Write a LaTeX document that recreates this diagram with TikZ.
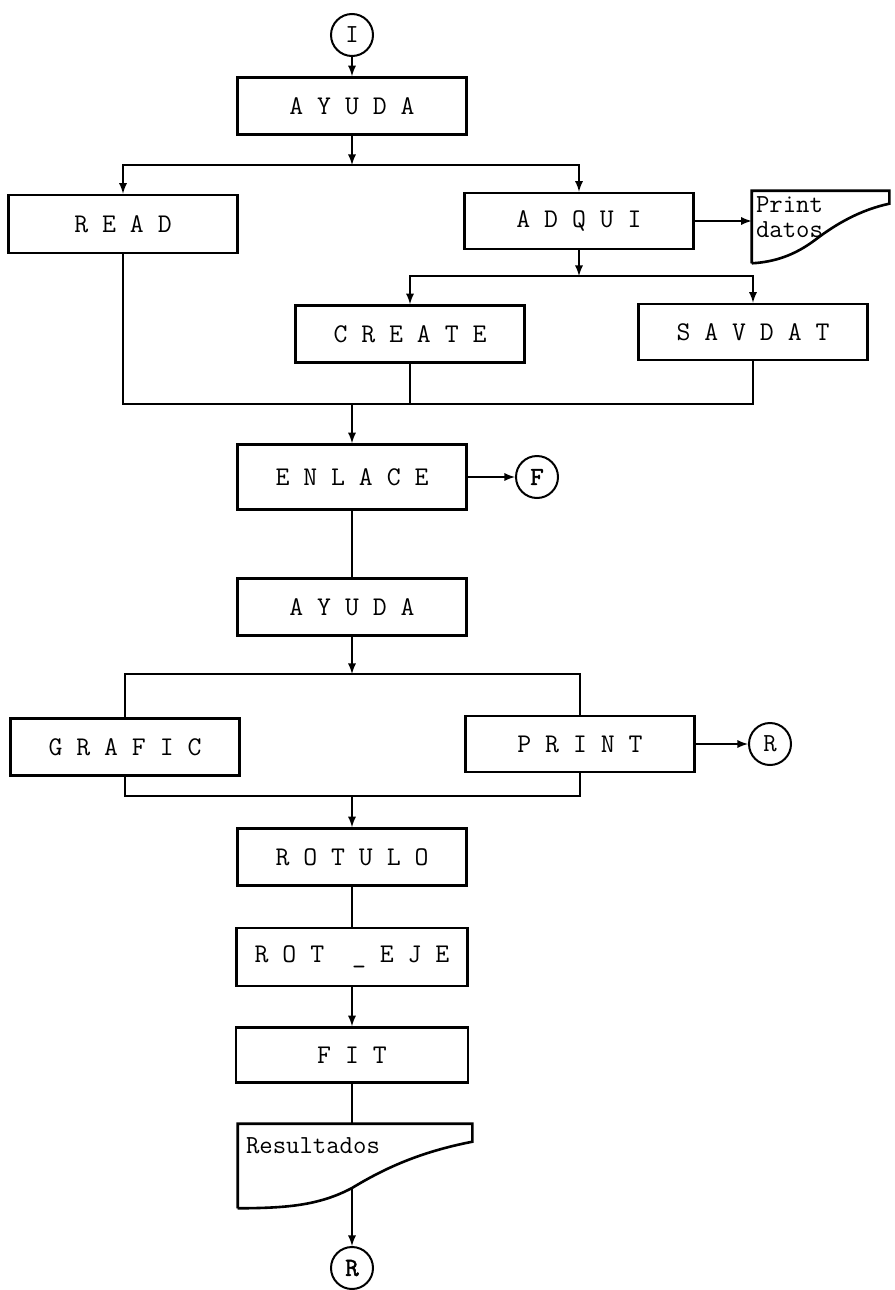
\documentclass[tikz,border=0pt]{standalone}
\usepackage{fontspec}
\newfontfamily\ttnegrita{Latin Modern Mono}[FakeBold=2]
\usepackage{tikz}
\usetikzlibrary{
  arrows,
  calc,
  positioning
}
\tikzset{>=latex}
\tikzset{proceso/.style={draw, rectangle, minimum width=229pt, minimum height=57pt,
    inner sep=0pt, font=\ttfamily\fontsize{27}{30}\selectfont}}
\tikzset{conector/.style={draw, circle, minimum size=42pt, inner sep=0pt,
    line width=2pt, font=\ttfamily\fontsize{26}{28}\selectfont}}
\tikzset{conectorb/.style={conector, font=\ttnegrita\fontsize{26}{28}\selectfont}}
\tikzset{hoja/.style={rectangle, draw=none, inner sep=0pt}}
\tikzset{textohoja/.style={font=\ttfamily\fontsize{26}{25}\selectfont, align=left,
    inner sep=2pt}}

\begin{document}
\begin{tikzpicture}[x=1pt, y=-1pt, line width=2.6pt]
  \useasboundingbox (0,0) rectangle (894,1290);
  % bloques
  \node[conector] (ini) at (352,35) {I};
  \node[proceso] (ayudaA) at (352,106) {A Y U D A};
  \node[proceso, minimum height=58pt] (read) at (123,224) {R E A D};
  \node[proceso, minimum height=56pt] (adqui) at (579,221) {A D Q U I};
  \node[hoja, minimum width=135pt, minimum height=70pt] (pdat) at (820.5,227) {};
  \node[textohoja, anchor=north west] (pdattxt) at ([xshift=1pt,yshift=-3pt]pdat.north west) {Print\\datos};
  \node[proceso] (create) at (410,334) {C R E A T E};
  \node[proceso, minimum height=56pt] (savdat) at (753,332) {S A V D A T};
  \node[proceso, minimum height=65pt] (enlace) at (352,477) {E N L A C E};
  \node[conectorb] (fin) at (537,477) {F};
  \node[proceso] (ayudaB) at (352,607) {A Y U D A};
  \node[proceso] (grafic) at (125,747) {G R A F I C};
  \node[proceso, minimum height=56pt] (print) at (580,744) {P R I N T};
  \node[conector] (retA) at (770,744) {R};
  \node[proceso] (rotulo) at (352,857) {R O T U L O};
  \node[proceso, minimum height=58pt, minimum width=231pt] (roteje) at (352,957) {R O T\ \ \_\ E J E};
  \node[proceso, minimum height=55pt, minimum width=232pt] (fit) at (352,1055) {F I T};
  \node[hoja, minimum width=232pt, minimum height=82pt] (res) at (355,1166) {};
  \node[textohoja, anchor=north west] (restxt) at ([xshift=5pt,yshift=-11pt]res.north west) {Resultados};
  \node[conectorb] (retB) at (352,1268) {R};
  % puntos de union
  \coordinate (jA) at (352,165);
  \coordinate (jB) at (579,276);
  \coordinate (jC) at (352,404);
  \coordinate (jD) at (352,674);
  \coordinate (jE) at (352,796);
  \coordinate (resin) at (352,1125);
  % hojas impresas
  \draw (pdat.south west) -- (pdat.north west) -- (pdat.north east) -- ++(0,13)
    .. controls (860,210) and (836,224) .. (815,240)
    .. controls (795,255) and (775,262) .. (pdat.south west);
  \draw (res.south west) -- (res.north west) -- (res.north east) -- ++(0,18)
    .. controls (420,1152) and (385,1168) .. (352,1188) coordinate (resout)
    .. controls (318,1206) and (285,1208) .. (res.south west);
  % flechas
  \draw[->] (ini) -- (ayudaA);
  \draw[->] (ayudaA) -- (jA);
  \draw[->] (jA) -| (read);
  \draw[->] (jA) -| (adqui);
  \draw[->] (adqui.east) -- (adqui.east -| pdat.west);
  \draw[->] (adqui) -- (jB);
  \draw[->] (jB) -| (create);
  \draw[->] (jB) -| (savdat);
  \draw (read) |- (jC);
  \draw (create) |- (jC);
  \draw (savdat) |- (jC);
  \draw[->] (jC) -- (enlace);
  \draw[->] (enlace) -- (fin);
  \draw (enlace) -- (ayudaB);
  \draw[->] (ayudaB) -- (jD);
  \draw (jD) -| (grafic);
  \draw (jD) -| (print);
  \draw (grafic) |- (jE);
  \draw (print) |- (jE);
  \draw[->] (print) -- (retA);
  \draw[->] (jE) -- (rotulo);
  \draw (rotulo) -- (roteje);
  \draw[->] (roteje) -- (fit);
  \draw (fit) -- (resin);
  \draw[->] (resout) -- (retB);
\end{tikzpicture}
\end{document}
